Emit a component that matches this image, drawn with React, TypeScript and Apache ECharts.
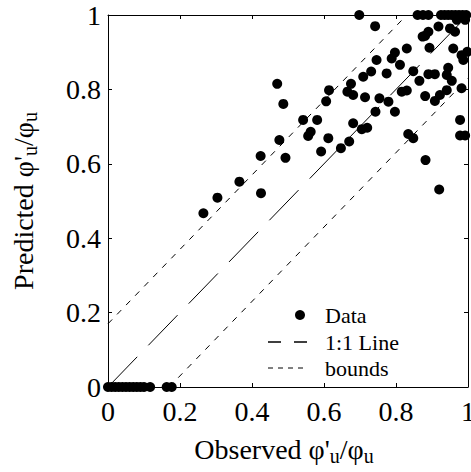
import React, { useEffect, useRef } from "react";
import * as echarts from "echarts";

const xTicks = ["0", "0.2", "0.4", "0.6", "0.8", "1"];
const yTicks = ["0", "0.2", "0.4", "0.6", "0.8", "1"];

const zeroRow: number[][] = [
  [0, 0], [0.01, 0], [0.02, 0], [0.03, 0], [0.04, 0], [0.05, 0], [0.06, 0],
  [0.07, 0], [0.08, 0], [0.09, 0], [0.1, 0], [0.117, 0], [0.163, 0], [0.177, 0],
];
const lowerPoints: number[][] = [
  [0.265, 0.467], [0.304, 0.509], [0.365, 0.552], [0.425, 0.521], [0.424, 0.621],
  [0.47, 0.815], [0.487, 0.761], [0.476, 0.664], [0.493, 0.616],
];
const middlePoints: number[][] = [
  [0.542, 0.718], [0.581, 0.718], [0.556, 0.675], [0.563, 0.686], [0.612, 0.669],
  [0.592, 0.633], [0.614, 0.798], [0.606, 0.768], [0.647, 0.642], [0.67, 0.66],
  [0.681, 0.709], [0.705, 0.693], [0.72, 0.697], [0.743, 0.74], [0.675, 0.815],
  [0.665, 0.794], [0.681, 0.785], [0.714, 0.779], [0.709, 0.834], [0.731, 0.848],
  [0.746, 0.879], [0.774, 0.843], [0.754, 0.776], [0.779, 0.767], [0.698, 1.0],
  [0.742, 0.97],
];
const upperPoints: number[][] = [
  [0.797, 0.74], [0.788, 0.883], [0.797, 0.899], [0.83, 0.91], [0.811, 0.866],
  [0.848, 0.849], [0.865, 0.823], [0.816, 0.794], [0.83, 0.797], [0.881, 0.782],
  [0.89, 0.841], [0.908, 0.841], [0.893, 0.912], [0.874, 0.942], [0.881, 0.944],
  [0.89, 0.955], [0.918, 0.969], [0.95, 0.964], [0.964, 0.955], [0.969, 0.987],
  [0.992, 0.987], [0.959, 0.91], [0.982, 0.892], [0.998, 0.901], [0.987, 0.879],
  [0.945, 0.858], [0.941, 0.839], [0.955, 0.823], [0.922, 0.785], [0.941, 0.798],
  [0.908, 0.769], [0.982, 0.803], [0.978, 0.718], [0.978, 0.676], [0.992, 0.676],
  [0.834, 0.68], [0.848, 0.669], [0.882, 0.61], [0.92, 0.531],
];
const topRow: number[][] = [
  [0.86, 1], [0.875, 1], [0.89, 1], [0.925, 1], [0.935, 1], [0.945, 1],
  [0.955, 1], [0.965, 1], [0.975, 1], [0.985, 1], [0.995, 1],
];
const oneToOne: number[][] = [[0, 0], [1, 1]];
const upperBound: number[][] = [[0, 0.17], [0.83, 1]];
const lowerBound: number[][] = [[0.17, 0], [1, 0.83]];

const FONT = "'Liberation Serif', 'Times New Roman', serif";

export default function App() {
  const ref = useRef<HTMLDivElement>(null);
  useEffect(() => {
    if (!ref.current) return;
    const chart = echarts.init(ref.current, null, { renderer: "svg" });
    const baseX = {
      type: "value",
      min: 0,
      max: 1,
      interval: 0.2,
      axisLine: { show: true, onZero: false, lineStyle: { color: "#000", width: 1 } },
      axisTick: { show: true, inside: true, length: 4, lineStyle: { color: "#000" } },
      splitLine: { show: false },
    };
    const labelX = {
      fontFamily: FONT,
      fontSize: 28,
      color: "#000",
      margin: 10,
      hideOverlap: false,
      formatter: (v: number) => xTicks[Math.round(v * 5)],
    };
    const labelY = {
      fontFamily: FONT,
      fontSize: 28,
      color: "#000",
      margin: 7,
      hideOverlap: false,
      formatter: (v: number) => yTicks[Math.round(v * 5)],
    };
    const sub = { fontFamily: FONT, fontSize: 20, color: "#000", padding: [13, 0, 0, 0] };
    chart.setOption({
      animation: false,
      backgroundColor: "#fff",
      grid: { left: 108, top: 15, width: 360, height: 372, outerBoundsMode: "none" },
      xAxis: [
        { ...baseX, position: "bottom", axisLabel: labelX },
        { ...baseX, position: "top", axisLabel: { show: false } },
      ],
      yAxis: [
        {
          ...baseX,
          position: "left",
          axisLabel: labelY,
          name: "Predicted φ'{sub|u}/φ{sub|u}",
          nameLocation: "middle",
          nameRotate: 90,
          nameGap: 68,
          nameTextStyle: { fontFamily: FONT, fontSize: 28, color: "#000", rich: { sub } },
        },
        { ...baseX, position: "right", axisLabel: { show: false } },
      ],
      series: [
        {
          name: "1:1 Line",
          type: "line",
          data: oneToOne,
          symbol: "none",
          lineStyle: { color: "#000", width: 1, type: [42, 16] },
          z: 1,
        },
        {
          name: "bounds",
          type: "line",
          data: upperBound,
          symbol: "none",
          lineStyle: { color: "#000", width: 1, type: [6, 7] },
          z: 1,
        },
        {
          name: "bounds",
          type: "line",
          data: lowerBound,
          symbol: "none",
          lineStyle: { color: "#000", width: 1, type: [6, 7] },
          z: 1,
        },
        {
          name: "Data",
          type: "scatter",
          data: [...zeroRow, ...lowerPoints, ...middlePoints, ...upperPoints, ...topRow],
          symbol: "circle",
          symbolSize: 10,
          itemStyle: { color: "#000", opacity: 1 },
          clip: false,
          z: 3,
        },
      ],
      graphic: [
        {
          type: "text",
          x: 284,
          y: 449,
          style: {
            text: "Observed φ'{sub|u}/φ{sub|u}",
            fontFamily: FONT,
            fontSize: 28,
            fill: "#000",
            align: "center",
            verticalAlign: "middle",
            rich: { sub },
          },
        },
        { type: "circle", shape: { cx: 300, cy: 315, r: 5 }, style: { fill: "#000" } },
        {
          type: "line",
          shape: { x1: 268, y1: 342, x2: 308, y2: 342 },
          style: { stroke: "#000", lineWidth: 1.5, lineDash: [13, 13] },
        },
        {
          type: "line",
          shape: { x1: 268, y1: 368, x2: 303, y2: 368 },
          style: { stroke: "#000", lineWidth: 1, lineDash: [5, 5] },
        },
        {
          type: "text",
          x: 325,
          y: 315,
          style: { text: "Data", fontFamily: FONT, fontSize: 22, fill: "#000", verticalAlign: "middle" },
        },
        {
          type: "text",
          x: 325,
          y: 342,
          style: { text: "1:1 Line", fontFamily: FONT, fontSize: 22, fill: "#000", verticalAlign: "middle" },
        },
        {
          type: "text",
          x: 325,
          y: 368,
          style: { text: "bounds", fontFamily: FONT, fontSize: 22, fill: "#000", verticalAlign: "middle" },
        },
      ],
    });
    return () => chart.dispose();
  }, []);
  return <div ref={ref} style={{ width: 471, height: 472, position: "absolute", left: 0, top: 0 }} />;
}
